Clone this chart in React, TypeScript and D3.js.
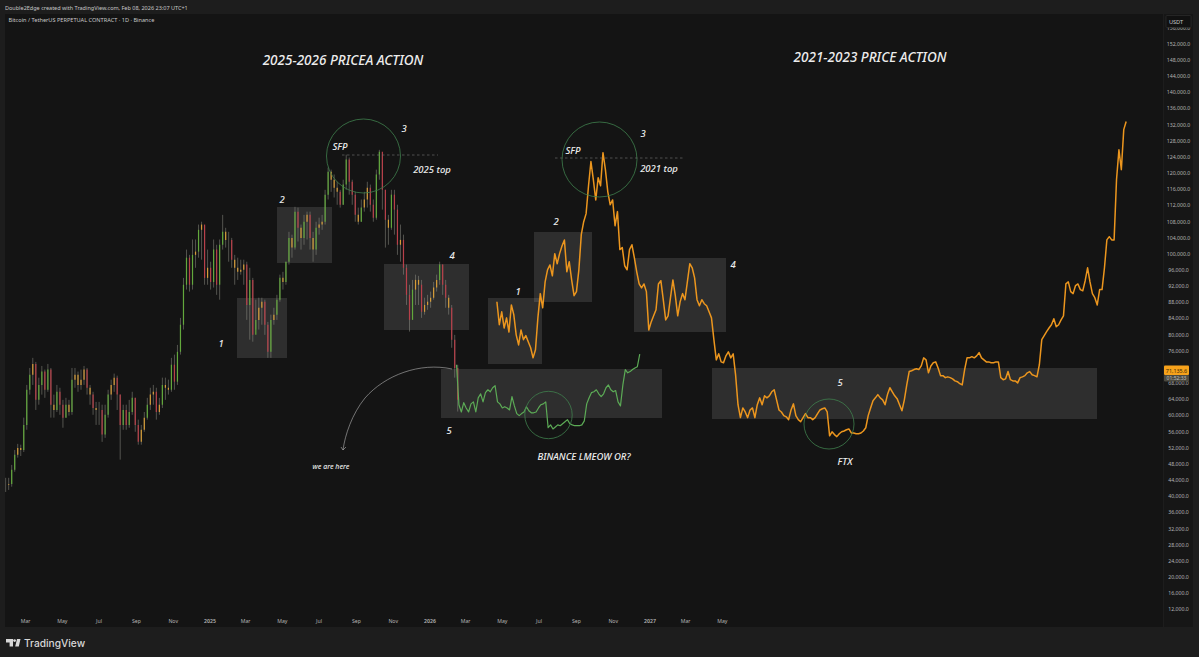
import * as d3 from "d3";
import React from "react";

// all prices in thousands of USDT
const candleClose = [42.9,43.1,46.6,50.3,52.0,51.5,57.7,66.4,70.1,72.8,63.9,67.6,70.9,66.4,71.4,62.7,61.4,65.9,62.7,59.5,62.7,60.9,68.9,70.1,67.6,68.9,71.4,66.9,65.2,61.9,61.4,61.4,55.3,60.2,65.2,67.6,69.4,65.2,57.7,61.4,57.7,60.9,64.4,57.7,53.5,56.5,59.5,62.7,65.2,65.9,60.9,62.7,67.6,66.9,66.4,72.6,68.4,75.8,82.5,92.4,99.1,92.4,99.8,100.6,106.0,107.3,94.1,96.6,93.1,101.1,92.4,102.3,105.5,103.5,103.5,98.6,96.6,95.6,96.1,97.4,87.4,93.6,80.0,83.7,86.7,88.2,82.5,75.8,83.7,85.0,88.7,94.1,93.1,98.1,104.0,101.6,110.5,106.5,104.0,108.0,109.7,104.0,101.1,106.5,107.3,108.0,114.7,120.4,118.4,116.4,115.4,112.2,117.2,123.4,117.9,114.7,109.7,108.0,111.5,113.5,116.4,112.2,109.0,119.7,125.3,115.9,108.5,106.5,114.7,111.0,102.3,103.5,96.6,89.9,83.7,91.2,93.6,92.4,85.7,87.4,88.2,89.2,91.7,93.6,97.4,92.4,89.2,86.7,78.8,71.8,63.9];
const candleHigh = [44.6,44.6,47.8,51.5,53.0,52.8,59.5,67.6,71.8,74.3,73.3,69.4,72.3,71.4,72.8,71.8,65.2,67.6,66.9,63.9,64.4,63.9,71.8,71.8,70.9,71.4,72.3,71.8,67.6,65.9,63.4,63.4,62.7,62.7,66.4,68.9,70.4,69.9,65.2,62.7,62.7,63.9,65.9,64.4,59.0,57.7,60.9,64.4,66.9,67.6,66.9,64.4,69.4,69.4,68.9,74.3,75.1,77.5,84.2,94.1,101.1,99.8,103.6,103.6,107.3,108.0,107.0,101.1,98.1,103.6,102.3,103.6,109.7,106.5,105.5,104.0,99.8,99.1,98.6,98.6,98.1,96.6,94.1,88.7,89.2,89.2,88.7,83.2,85.0,86.7,89.9,94.9,95.6,98.1,105.5,104.8,111.7,111.5,107.3,109.7,110.5,110.5,105.5,108.0,109.0,109.7,115.9,121.4,120.9,119.7,117.9,115.9,118.4,124.6,123.9,118.4,115.4,111.5,113.5,115.4,117.9,117.2,113.5,120.9,125.8,124.6,115.9,109.7,115.9,115.9,112.2,107.3,104.8,97.4,92.4,93.6,94.9,94.6,93.6,89.2,89.9,90.7,93.1,94.9,98.1,97.4,93.6,89.9,87.4,80.0,72.6];
const candleLow = [41.1,41.6,42.4,46.1,49.6,50.0,51.0,56.5,65.2,67.6,61.4,62.7,65.2,64.4,65.9,59.5,59.5,60.9,60.2,57.0,59.5,60.0,60.2,66.9,65.9,66.4,67.6,65.2,62.7,60.2,57.7,57.7,53.5,54.5,59.5,63.9,65.9,61.4,49.1,56.5,56.5,57.0,60.2,56.0,52.8,52.8,56.0,59.0,61.4,62.7,59.0,60.2,61.9,63.9,65.2,65.9,66.4,67.6,75.1,81.3,91.2,90.7,91.2,96.6,99.1,98.6,92.4,92.4,91.2,91.7,89.9,88.7,101.1,101.6,98.1,96.6,92.4,93.6,94.9,92.4,83.7,78.8,78.3,81.3,81.3,82.5,80.0,74.3,74.3,82.5,83.7,88.2,91.2,92.4,97.4,99.1,101.1,103.1,101.1,102.3,103.6,101.1,98.1,99.8,104.8,106.0,107.3,113.5,115.4,114.0,112.2,111.5,112.2,115.9,114.7,112.2,108.0,107.3,108.0,110.5,111.5,110.5,108.0,108.5,118.4,111.0,101.6,102.3,106.0,104.8,99.8,98.1,94.9,87.4,80.8,84.2,87.4,87.4,84.2,85.0,86.2,86.7,88.7,90.7,92.4,89.9,86.7,85.0,76.8,69.4,61.0];

const greenLine = [72.6,62.7,60.9,63.2,61.9,60.9,62.9,63.4,60.9,64.4,65.4,63.4,65.7,66.4,65.9,66.9,67.4,63.4,62.9,61.9,62.2,61.9,61.4,64.7,62.4,60.5,60.0,60.5,60.9,62.2,61.2,60.7,60.7,60.9,61.9,62.7,62.9,63.4,57.0,57.7,56.7,57.2,57.7,57.5,58.0,58.5,59.0,58.0,57.7,57.5,57.5,57.5,57.7,58.7,62.9,64.4,65.7,65.9,66.4,65.4,64.7,65.4,66.9,67.6,66.4,65.9,66.2,63.4,62.4,67.6,71.4,70.6,70.9,71.4,71.8,72.1,75.2];

const orangeLine = [88.2,82.5,85.7,81.7,84.2,80.7,87.4,85.0,80.0,77.5,81.2,78.8,79.8,78.3,76.8,74.3,76.3,84.2,90.2,86.7,93.1,96.1,97.3,94.6,100.1,97.6,100.1,102.0,103.5,95.6,98.1,93.6,89.7,90.7,96.1,104.8,108.0,110.0,116.9,122.9,118.4,113.4,118.9,116.9,125.1,120.9,115.4,112.2,113.4,107.0,110.5,101.1,101.6,97.1,96.1,101.1,102.3,99.1,95.6,92.6,91.6,92.6,90.7,81.2,83.2,84.7,86.2,92.6,93.4,88.7,83.7,84.7,89.2,93.6,89.7,84.7,88.2,90.2,88.7,93.1,97.6,96.6,94.1,88.7,87.2,88.7,87.7,87.2,85.7,84.2,78.8,73.8,75.3,73.3,73.1,74.8,75.8,74.3,75.3,70.1,62.7,59.5,61.9,60.9,59.5,61.4,61.9,59.5,62.7,64.4,62.7,64.9,64.4,64.9,65.9,66.4,63.9,61.4,60.9,60.0,59.7,59.0,61.4,62.9,60.0,59.0,58.5,59.5,60.5,59.5,59.5,59.0,59.5,60.5,61.4,61.7,61.9,60.9,55.0,56.0,55.3,54.8,55.5,56.0,56.2,56.5,56.7,55.7,55.7,55.5,55.5,55.7,56.2,57.0,60.0,61.9,63.7,64.4,65.2,64.4,63.9,62.7,65.2,66.9,65.9,64.9,64.2,62.7,61.2,63.9,67.6,70.9,71.1,71.4,71.6,71.4,72.3,74.3,73.8,70.6,72.3,73.1,73.3,71.8,69.9,69.9,69.4,69.6,69.4,69.1,68.6,68.4,67.9,67.6,71.4,74.3,74.3,74.6,74.3,74.8,75.6,74.3,73.8,73.3,73.3,73.1,73.1,73.3,73.3,69.4,68.9,69.1,70.9,68.9,68.6,68.6,68.1,69.4,69.6,69.9,70.6,70.9,70.1,69.9,69.6,72.6,78.8,79.8,80.8,81.7,82.5,84.0,82.0,82.5,83.7,84.7,92.6,93.1,90.7,90.2,92.2,92.6,91.2,90.9,93.4,96.6,93.1,90.2,89.2,87.4,91.2,91.2,96.6,103.5,104.3,103.5,103.5,118.4,125.8,120.9,130.8,132.8];

const candleStart = new Date(2024, 0, 28);
const greenStart = new Date(2026, 1, 14);
const orangeStart = new Date(2026, 3, 22);
// 72,000 sits behind the last-price tag in the reference
const priceTicks = d3.range(12, 157, 4).filter((k) => k !== 72);
const monthTicks = d3.timeMonth.range(new Date(2024, 2, 1), new Date(2027, 5, 1), 2);

const x = d3.scaleTime().domain([new Date(2025, 0, 1), new Date(2026, 0, 1)]).range([210, 430]);
const y = d3.scaleLinear().domain([12, 152]).range([609.5, 44]);

const lineFrom = (start: Date) =>
  d3
    .line<number>()
    .x((_, i) => x(d3.timeDay.offset(start, i * 4)))
    .y((d) => y(d));

const candleColor = (open: number, close: number) => {
  if (close - open > 3) return "#62a83c";
  if (close - open < -3) return "#b8404a";
  return "#d69c38";
};

const boxes = [
  [237, 298, 50, 60],
  [277, 207, 55, 56],
  [384, 264, 85, 66],
  [441, 369, 221, 49],
  [488, 298, 54, 66],
  [534, 232, 58, 70],
  [634, 258, 92, 74],
  [712, 368, 385, 51],
];
const circles = [
  [363.5, 156, 37],
  [599.5, 159.5, 37.5],
  [548.5, 415, 23.7],
  [829, 424, 25],
];
const notes: [string, number, number, number][] = [
  ["2025-2026 PRICEA ACTION", 343, 65, 13.5],
  ["2021-2023 PRICE ACTION", 870, 62, 13.5],
  ["1", 221, 347, 9.5],
  ["2", 282, 203, 9.5],
  ["3", 404, 132, 9.5],
  ["SFP", 340, 150, 9.5],
  ["2025 top", 432, 173, 9.5],
  ["4", 452, 259, 9.5],
  ["5", 449, 434, 9.5],
  ["we are here", 331, 469, 7],
  ["1", 518, 295, 9.5],
  ["2", 556, 225, 9.5],
  ["3", 643, 137, 9.5],
  ["SFP", 573, 154, 9.5],
  ["2021 top", 659, 172, 9.5],
  ["4", 733, 268, 9.5],
  ["5", 840, 386, 9.5],
  ["FTX", 845, 465, 9.5],
  ["BINANCE LMEOW OR?", 584, 460, 9.5],
];

const font = "'Noto Sans', 'Open Sans', sans-serif";
const fmtPrice = (k: number) => d3.format(",.1f")(k * 1000);

export default function App() {
  return (
    <svg
      width={1199}
      height={657}
      viewBox="0 0 1199 657"
      style={{ position: "absolute", left: 0, top: 0, background: "#1d1d1d" }}
      fontFamily={font}
    >
      <defs>
        <clipPath id="axis-clip">
          <rect x={1164} y={27} width={29} height={600} />
        </clipPath>
      </defs>

      <rect x={5} y={14} width={1158} height={613} fill="#141414" />
      <rect x={1164} y={14} width={29} height={613} fill="#161616" />

      <text x={5} y={9.5} fontSize={5.5} fill="#c8c8c8">
        Double2Edge created with TradingView.com, Feb 08, 2026 23:07 UTC+1
      </text>
      <text x={8.5} y={22} fontSize={5.6} fill="#c8c8c8">
        Bitcoin / TetherUS PERPETUAL CONTRACT · 1D · Binance
      </text>

      {boxes.map(([bx, by, w, h], i) => (
        <rect key={i} x={bx} y={by} width={w} height={h} fill="#ffffff" fillOpacity={0.115} />
      ))}

      {candleClose.map((close, i) => {
        const open = i === 0 ? close : candleClose[i - 1];
        const cx = x(d3.timeDay.offset(candleStart, i * 5));
        const color = candleColor(open, close);
        return (
          <g key={i}>
            <line x1={cx} x2={cx} y1={y(candleHigh[i])} y2={y(candleLow[i])} stroke="#9a9a90" strokeWidth={0.6} strokeOpacity={0.8} />
            <line x1={cx} x2={cx} y1={y(open)} y2={y(close)} stroke={color} strokeWidth={1.2} />
          </g>
        );
      })}

      <path d={lineFrom(greenStart)(greenLine) ?? ""} fill="none" stroke="#5cab56" strokeWidth={1.2} strokeLinejoin="round" />
      <path d={lineFrom(orangeStart)(orangeLine) ?? ""} fill="none" stroke="#ec961e" strokeWidth={1.5} strokeLinejoin="round" />

      {circles.map(([cx, cy, r], i) => (
        <circle key={i} cx={cx} cy={cy} r={r} fill="none" stroke="#3f7f4c" strokeWidth={0.8} />
      ))}

      <line x1={342} x2={438} y1={155} y2={155} stroke="#777777" strokeWidth={0.6} strokeDasharray="2.5 2.5" />
      <line x1={555} x2={685} y1={158} y2={158} stroke="#777777" strokeWidth={0.6} strokeDasharray="2.5 2.5" />

      <path
        d="M452 369C420 362 385 375 365 398C352 414 345 435 343 450M341 447L343 450L346 447"
        fill="none"
        stroke="#b4b4b4"
        strokeWidth={0.6}
      />

      {notes.map(([label, nx, ny, size], i) => (
        <text key={i} x={nx} y={ny} fontSize={size} fontStyle="italic" fontWeight={500} textAnchor="middle" fill="#ececec">
          {label}
        </text>
      ))}

      <g clipPath="url(#axis-clip)">
        {priceTicks.map((k) => (
          <text key={k} x={1178.5} y={y(k) + 1.8} fontSize={5.2} textAnchor="middle" fill="#b4b4b4">
            {fmtPrice(k)}
          </text>
        ))}
      </g>

      <rect x={1166} y={15.5} width={25} height={12} fill="#111111" stroke="#333333" strokeWidth={0.6} rx={1} />
      <text x={1176} y={23.5} fontSize={5.6} textAnchor="middle" fill="#c8c8c8">
        USDT
      </text>

      <rect x={1164} y={365.5} width={25} height={9.5} fill="#f7a21b" rx={1} />
      <text x={1176.5} y={372.5} fontSize={5.4} textAnchor="middle" fill="#3a2a08">
        71,135.6
      </text>
      <rect x={1164} y={375} width={25} height={6.5} fill="#4c4a40" rx={1} />
      <text x={1176.5} y={380.3} fontSize={5} textAnchor="middle" fill="#c0c0c0">
        01:52:33
      </text>

      {monthTicks.map((d, i) => (
        <text key={i} x={x(d)} y={623} fontSize={5.2} textAnchor="middle" fill="#b4b4b4" fontWeight={d.getMonth() === 0 ? 600 : 400}>
          {d.getMonth() === 0 ? d3.timeFormat("%Y")(d) : d3.timeFormat("%b")(d)}
        </text>
      ))}

      <path d="M6 639H13V646.5H9.6V642.4H6ZM15.2 646.5L17 639H20.5L18.8 646.5Z" fill="#d8d8d8" />
      <circle cx={14.6} cy={640.6} r={1.4} fill="#d8d8d8" />
      <text x={24} y={647} fontFamily="Inter, Roboto, sans-serif" fontSize={10.2} fontWeight={500} fill="#d8d8d8">
        TradingView
      </text>
    </svg>
  );
}
